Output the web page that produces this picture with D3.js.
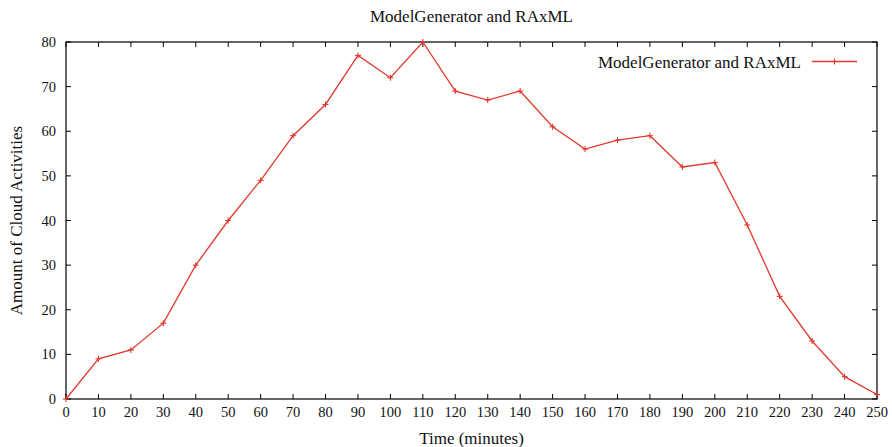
<!DOCTYPE html>
<html><head><meta charset="utf-8">
<script src="https://cdn.jsdelivr.net/npm/d3@7"></script>
<style>body{margin:0;background:#fff}svg{display:block}text{font-family:"Liberation Serif","Times New Roman",serif;fill:#111}</style>
</head><body><svg id="c" width="892" height="447"></svg>
<script>
const times = [0,10,20,30,40,50,60,70,80,90,100,110,120,130,140,150,160,170,180,190,200,210,220,230,240,250];
const activities = [0,9,11,17,30,40,49,59,66,77,72,80,69,67,69,61,56,58,59,52,53,39,23,13,5,1];
const xTicks = d3.range(0,251,10);
const yTicks = d3.range(0,81,10);
const title = "ModelGenerator and RAxML";
const seriesName = "ModelGenerator and RAxML";
const color = "#e2382c";

const svg = d3.select("#c");
const L=66,R=877,T=42,B=399;
const x = d3.scaleLinear().domain([0,250]).range([L,R]);
const y = d3.scaleLinear().domain([0,80]).range([B,T]);
const fs = 17, tfs = 14.5;

svg.append("rect").attr("x",L).attr("y",T).attr("width",R-L).attr("height",B-T)
  .attr("fill","none").attr("stroke","#000").attr("stroke-width",1.2);
const g = svg.append("g").attr("stroke","#000").attr("stroke-width",1);
xTicks.forEach(t=>{
  g.append("line").attr("x1",x(t)).attr("x2",x(t)).attr("y1",B).attr("y2",B-5);
  g.append("line").attr("x1",x(t)).attr("x2",x(t)).attr("y1",T).attr("y2",T+5);
});
yTicks.forEach(t=>{
  g.append("line").attr("x1",L).attr("x2",L+5).attr("y1",y(t)).attr("y2",y(t));
  g.append("line").attr("x1",R).attr("x2",R-5).attr("y1",y(t)).attr("y2",y(t));
});
svg.selectAll(".xl").data(xTicks).enter().append("text")
  .attr("x",d=>x(d)).attr("y",B+18).attr("text-anchor","middle").attr("font-size",tfs).text(d=>d);
svg.selectAll(".yl").data(yTicks).enter().append("text")
  .attr("x",L-10).attr("y",d=>y(d)+5).attr("text-anchor","end").attr("font-size",tfs).text(d=>d);
svg.append("text").attr("x",(L+R)/2).attr("y",444).attr("text-anchor","middle").attr("font-size",fs).text("Time (minutes)");
svg.append("text").attr("transform","translate(22,"+((T+B)/2)+") rotate(-90)").attr("text-anchor","middle").attr("font-size",fs).text("Amount of Cloud Activities");
svg.append("text").attr("x",(L+R)/2).attr("y",22).attr("text-anchor","middle").attr("font-size",fs).text(title);

const line = d3.line().x((d,i)=>x(times[i])).y(d=>y(d));
svg.append("path").datum(activities).attr("d",line).attr("fill","none").attr("stroke",color).attr("stroke-width",1.3);
const m = svg.append("g").attr("stroke",color).attr("stroke-width",1.1);
activities.forEach((v,i)=>{
  const cx=x(times[i]), cy=y(v);
  m.append("line").attr("x1",cx-3).attr("x2",cx+3).attr("y1",cy).attr("y2",cy);
  m.append("line").attr("x1",cx).attr("x2",cx).attr("y1",cy-3).attr("y2",cy+3);
});
svg.append("text").attr("x",801).attr("y",67.5).attr("text-anchor","end").attr("font-size",fs).text(seriesName);
svg.append("line").attr("x1",812).attr("x2",857).attr("y1",61.5).attr("y2",61.5).attr("stroke",color).attr("stroke-width",1.3);
svg.append("line").attr("x1",831.5).attr("x2",837.5).attr("y1",61.5).attr("y2",61.5).attr("stroke",color).attr("stroke-width",1.1);
svg.append("line").attr("x1",834.5).attr("x2",834.5).attr("y1",58.5).attr("y2",64.5).attr("stroke",color).attr("stroke-width",1.1);
</script></body></html>
